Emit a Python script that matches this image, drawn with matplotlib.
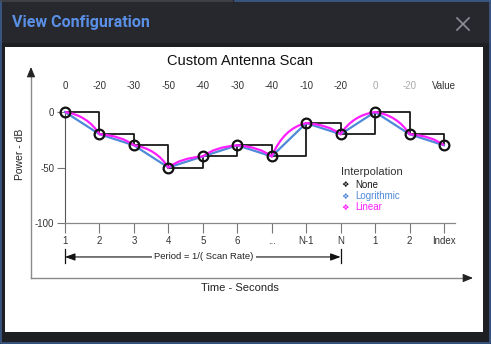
import matplotlib
matplotlib.use('Agg')
import matplotlib.pyplot as plt
from matplotlib.path import Path
from matplotlib.patches import PathPatch, Rectangle

plt.rcParams['font.family'] = ['Liberation Sans', 'DejaVu Sans']

# scan table
index_labels = ['1', '2', '3', '4', '5', '6', '...', 'N-1', 'N', '1', '2', 'Index']
value_labels = ['0', '-20', '-30', '-50', '-40', '-30', '-40', '-10', '-20', '0', '-20', 'Value']
value_muted = [False] * 9 + [True, True, False]   # next period shown in grey
power_db = [0, -20, -30, -50, -40, -30, -40, -10, -20, 0, -20, -30]
y_ticks = [0, -50, -100]
legend_names = ['None', 'Logrithmic', 'Linear']
legend_colors = ['#1a1a1a', '#4f8ad9', '#ff1eff']

W, H = 491, 344
fig = plt.figure(figsize=(W / 100, H / 100), dpi=100)
fig.patch.set_facecolor('#1e1f23')

# dialog chrome in pixel coordinates
pix = fig.add_axes([0, 0, 1, 1], zorder=0)
pix.set_xlim(0, W)
pix.set_ylim(H, 0)
pix.axis('off')
pix.add_patch(Rectangle((0, 0), W, 43, color='#27282d', lw=0))
pix.add_patch(Rectangle((5, 47), 478, 285, color='white', lw=0))
pix.plot([0.7, 0.7, W - 0.7, W - 0.7], [0, H - 0.7, H - 0.7, 0], color='#3b5c8f', lw=1.2)
pix.plot([0, 232], [0.7, 0.7], color='#45464c', lw=1.2)
pix.plot([235, W], [0.7, 0.7], color='#3b5c8f', lw=1.2)
pix.text(12, 23, 'View Configuration', color='#5a8fe6', fontsize=11.5,
         fontweight='bold', family='Roboto', va='center', ha='left')
pix.plot([457, 469], [18, 30], color='#8d8f96', lw=1.2)
pix.plot([457, 469], [30, 18], color='#8d8f96', lw=1.2)

pix.text(240, 61, 'Custom Antenna Scan', fontsize=10.5, color='#111111', ha='center', va='center')
pix.text(20, 154, 'Power - dB', rotation=90, fontsize=7.5, color='#222222', ha='center', va='center')
pix.text(240, 288, 'Time - Seconds', fontsize=8, color='#222222', ha='center', va='center')

# outer power / time arrows
pix.plot([31, 31], [278, 74], color='#8a8a8a', lw=1.0)
pix.plot([31, 466], [278, 278], color='#8a8a8a', lw=1.0)
arrow = dict(arrowstyle='-|>,head_length=0.6,head_width=0.25', color='#222222',
             lw=0.8, shrinkA=0, shrinkB=0, mutation_scale=10)
pix.annotate('', xy=(31, 67), xytext=(31, 76), arrowprops=arrow)
pix.annotate('', xy=(473, 278), xytext=(464, 278), arrowprops=arrow)

# legend
pix.text(341, 172, 'Interpolation', fontsize=8, color='#333333', ha='left', va='center')
for k, (name, col) in enumerate(zip(legend_names, legend_colors)):
    yy = 184.5 + k * 11.5
    pix.text(345, yy, '\u2756', fontsize=6, color=col, ha='center', va='center', family='DejaVu Sans')
    pix.text(355, yy, name, fontsize=7, color=col, ha='left', va='center')

# data axes: index 0 at px 65, step 34.45 px; 0 dB at px 112, -100 dB at px 223
x = list(range(len(power_db)))
ax = fig.add_axes([65 / W, (H - 223) / H, 390 / W, 111 / H], zorder=1)
ax.set_xlim(0, 390 / 34.45)
ax.set_ylim(-100, 0)
ax.patch.set_alpha(0)

ax.plot(x, power_db, drawstyle='steps-post', color='#1a1a1a', lw=1.3, clip_on=False, zorder=2)
ax.plot(x, power_db, color=legend_colors[1], lw=1.6, clip_on=False, zorder=3)

verts = [(x[0], power_db[0])]
codes = [Path.MOVETO]
for i in range(len(x) - 1):
    a, b = power_db[i], power_db[i + 1]
    if a >= b:
        ctrl = (x[i] + 0.65, a - 0.15 * (a - b))
    else:
        ctrl = (x[i] + 0.35, b - 0.15 * (b - a))
    verts += [ctrl, (x[i + 1], b)]
    codes += [Path.CURVE3, Path.CURVE3]
ax.add_patch(PathPatch(Path(verts, codes), fill=False, ec=legend_colors[2], lw=1.6,
                       clip_on=False, zorder=4))

ax.plot(x, power_db, 'o', ms=7, mfc='none', mec='#111111', mew=1.6, clip_on=False, zorder=5)

ax.set_xticks(x, index_labels)
ax.set_yticks(y_ticks, [str(v) for v in y_ticks])
ax.tick_params(axis='x', length=7.2, width=0.8, color='#777777', pad=2, labelsize=7, labelcolor='#333333')
ax.tick_params(axis='y', length=5.8, width=0.8, color='#777777', pad=2, labelsize=7, labelcolor='#333333')
for s in ['top', 'right']:
    ax.spines[s].set_visible(False)
ax.spines['left'].set_color('#555555')
ax.spines['left'].set_linewidth(0.8)
ax.spines['bottom'].set_color('#888888')
ax.spines['bottom'].set_linewidth(0.9)

for i, lab in enumerate(value_labels):
    ax.text(x[i], 23.4, lab, fontsize=7, ha='center', va='center',
            color='#aaaaaa' if value_muted[i] else '#333333')

# period arrow
yp = -130.6
ax.plot([0, 0], [-123.4, -136.0], color='#111111', lw=0.9, clip_on=False)
ax.plot([8, 8], [-123.4, -136.0], color='#111111', lw=0.9, clip_on=False)
ax.annotate('', xy=(0, yp), xytext=(8, yp), annotation_clip=False,
            arrowprops=dict(arrowstyle='<|-|>,head_length=0.6,head_width=0.22', color='#111111',
                            lw=0.8, shrinkA=0, shrinkB=0, mutation_scale=10))
ax.text(4.03, yp, 'Period = 1/( Scan Rate)', fontsize=6.8, color='#222222', ha='center', va='center',
        bbox=dict(fc='white', ec='none', pad=1.5), zorder=6)

fig.savefig('out.png', dpi=100, facecolor=fig.get_facecolor())
